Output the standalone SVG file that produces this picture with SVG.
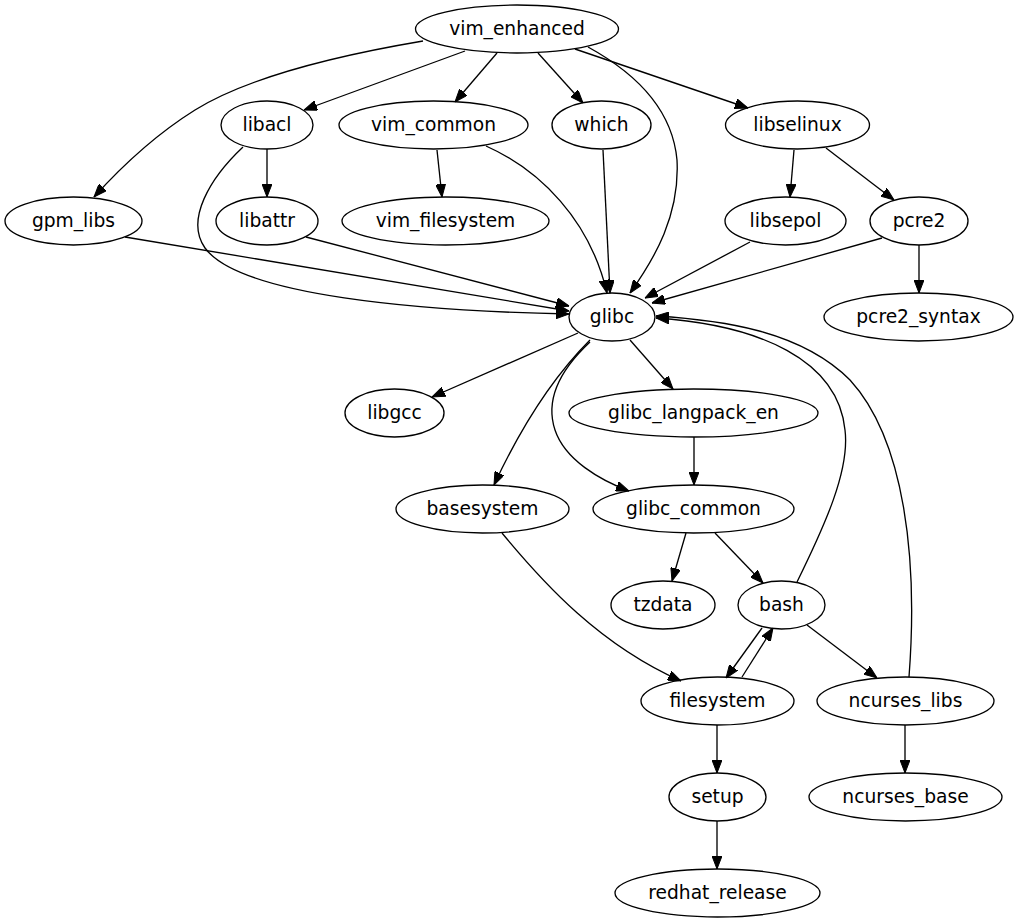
<svg xmlns="http://www.w3.org/2000/svg" width="1019" height="923" viewBox="0 0 1019 923">
<style>
.n ellipse{fill:none;stroke:#000;stroke-width:1.33}
.n text{font-family:"DejaVu Sans",sans-serif;font-size:18.67px;text-anchor:middle;fill:#000}
#edges path{fill:none;stroke:#000;stroke-width:1.33;marker-end:url(#ah)}
</style>
<defs>
<marker id="ah" viewBox="0 0 13 10" refX="13" refY="5" markerWidth="13" markerHeight="10" markerUnits="userSpaceOnUse" orient="auto">
<path d="M0,0 L13,5 L0,10 z" fill="#000" stroke="#000" stroke-width="1"/>
</marker>
</defs>
<rect width="1019" height="923" fill="#fff"/>
<g id="edges">
<path d="M423,41 C340,55 250,76 195,110 C155,135 122,166 94,197"/>
<path d="M465,51 L304,110"/>
<path d="M497,53 L455,102"/>
<path d="M538,53 L583,103"/>
<path d="M588,47 C630,70 672,105 677,160 C680,215 655,258 630,293"/>
<path d="M575,49 L748,108"/>
<path d="M267,149 L267,197"/>
<path d="M243,147 C210,178 185,220 205,248 C240,296 420,311 569,314"/>
<path d="M125,237 L569,311"/>
<path d="M306,237 L569,306"/>
<path d="M437,150 L442,197"/>
<path d="M486,146 C540,170 590,220 607,293"/>
<path d="M603,150 L610,293"/>
<path d="M794,150 L790,197"/>
<path d="M826,148 L894,200"/>
<path d="M750,242 L645,298"/>
<path d="M882,238 L652,303"/>
<path d="M919,245 L919,293"/>
<path d="M578,333 L432,397"/>
<path d="M630,340 L673,389"/>
<path d="M590,340 C560,370 528,412 494,485"/>
<path d="M590,342 C560,370 545,400 555,430 C565,460 600,480 629,491"/>
<path d="M694,437 L694,485"/>
<path d="M502,533 C545,585 600,645 681,681"/>
<path d="M686,533 L672,581"/>
<path d="M715,533 L763,583"/>
<path d="M797,582 C825,525 850,470 845,430 C838,360 760,325 656,318"/>
<path d="M909,677 C918,560 905,440 850,380 C800,330 720,320 656,316"/>
<path d="M762,628 L726,678"/>
<path d="M742,677 L773,628"/>
<path d="M807,625 L877,678"/>
<path d="M717,725 L717,773"/>
<path d="M905,725 L905,773"/>
<path d="M717,821 L717,869"/>
</g>
<g id="vim_enhanced" class="n"><ellipse cx="517" cy="29" rx="101.5" ry="24"/><text x="517" y="35">vim_enhanced</text></g>
<g id="libacl" class="n"><ellipse cx="267" cy="125" rx="46" ry="24"/><text x="267" y="131">libacl</text></g>
<g id="vim_common" class="n"><ellipse cx="433.5" cy="125" rx="94.5" ry="24"/><text x="433.5" y="131">vim_common</text></g>
<g id="which" class="n"><ellipse cx="601.5" cy="125" rx="49.5" ry="24"/><text x="601.5" y="131">which</text></g>
<g id="libselinux" class="n"><ellipse cx="797.5" cy="125" rx="72" ry="24"/><text x="797.5" y="131">libselinux</text></g>
<g id="gpm_libs" class="n"><ellipse cx="73.5" cy="221" rx="68.5" ry="24"/><text x="73.5" y="227">gpm_libs</text></g>
<g id="libattr" class="n"><ellipse cx="267" cy="221" rx="51" ry="24"/><text x="267" y="227">libattr</text></g>
<g id="vim_filesystem" class="n"><ellipse cx="445.5" cy="221" rx="103.5" ry="24"/><text x="445.5" y="227">vim_filesystem</text></g>
<g id="libsepol" class="n"><ellipse cx="785.5" cy="221" rx="60.5" ry="24"/><text x="785.5" y="227">libsepol</text></g>
<g id="pcre2" class="n"><ellipse cx="919" cy="221" rx="49" ry="24"/><text x="919" y="227">pcre2</text></g>
<g id="glibc" class="n"><ellipse cx="612" cy="317" rx="43" ry="24"/><text x="612" y="323">glibc</text></g>
<g id="pcre2_syntax" class="n"><ellipse cx="918.5" cy="317" rx="94.5" ry="24"/><text x="918.5" y="323">pcre2_syntax</text></g>
<g id="libgcc" class="n"><ellipse cx="394.5" cy="413" rx="49.5" ry="24"/><text x="394.5" y="419">libgcc</text></g>
<g id="glibc_langpack_en" class="n"><ellipse cx="693.5" cy="413" rx="124.5" ry="24"/><text x="693.5" y="419">glibc_langpack_en</text></g>
<g id="basesystem" class="n"><ellipse cx="482.5" cy="509" rx="86.5" ry="24"/><text x="482.5" y="515">basesystem</text></g>
<g id="glibc_common" class="n"><ellipse cx="693.5" cy="509" rx="100.5" ry="24"/><text x="693.5" y="515">glibc_common</text></g>
<g id="tzdata" class="n"><ellipse cx="663" cy="605" rx="52" ry="24"/><text x="663" y="611">tzdata</text></g>
<g id="bash" class="n"><ellipse cx="781.5" cy="605" rx="43.5" ry="24"/><text x="781.5" y="611">bash</text></g>
<g id="filesystem" class="n"><ellipse cx="717.5" cy="701" rx="76.5" ry="24"/><text x="717.5" y="707">filesystem</text></g>
<g id="ncurses_libs" class="n"><ellipse cx="905.5" cy="701" rx="88.5" ry="24"/><text x="905.5" y="707">ncurses_libs</text></g>
<g id="setup" class="n"><ellipse cx="717.5" cy="797" rx="48.5" ry="24"/><text x="717.5" y="803">setup</text></g>
<g id="ncurses_base" class="n"><ellipse cx="905.5" cy="797" rx="96.5" ry="24"/><text x="905.5" y="803">ncurses_base</text></g>
<g id="redhat_release" class="n"><ellipse cx="717.5" cy="893" rx="102.5" ry="24"/><text x="717.5" y="899">redhat_release</text></g>
</svg>
